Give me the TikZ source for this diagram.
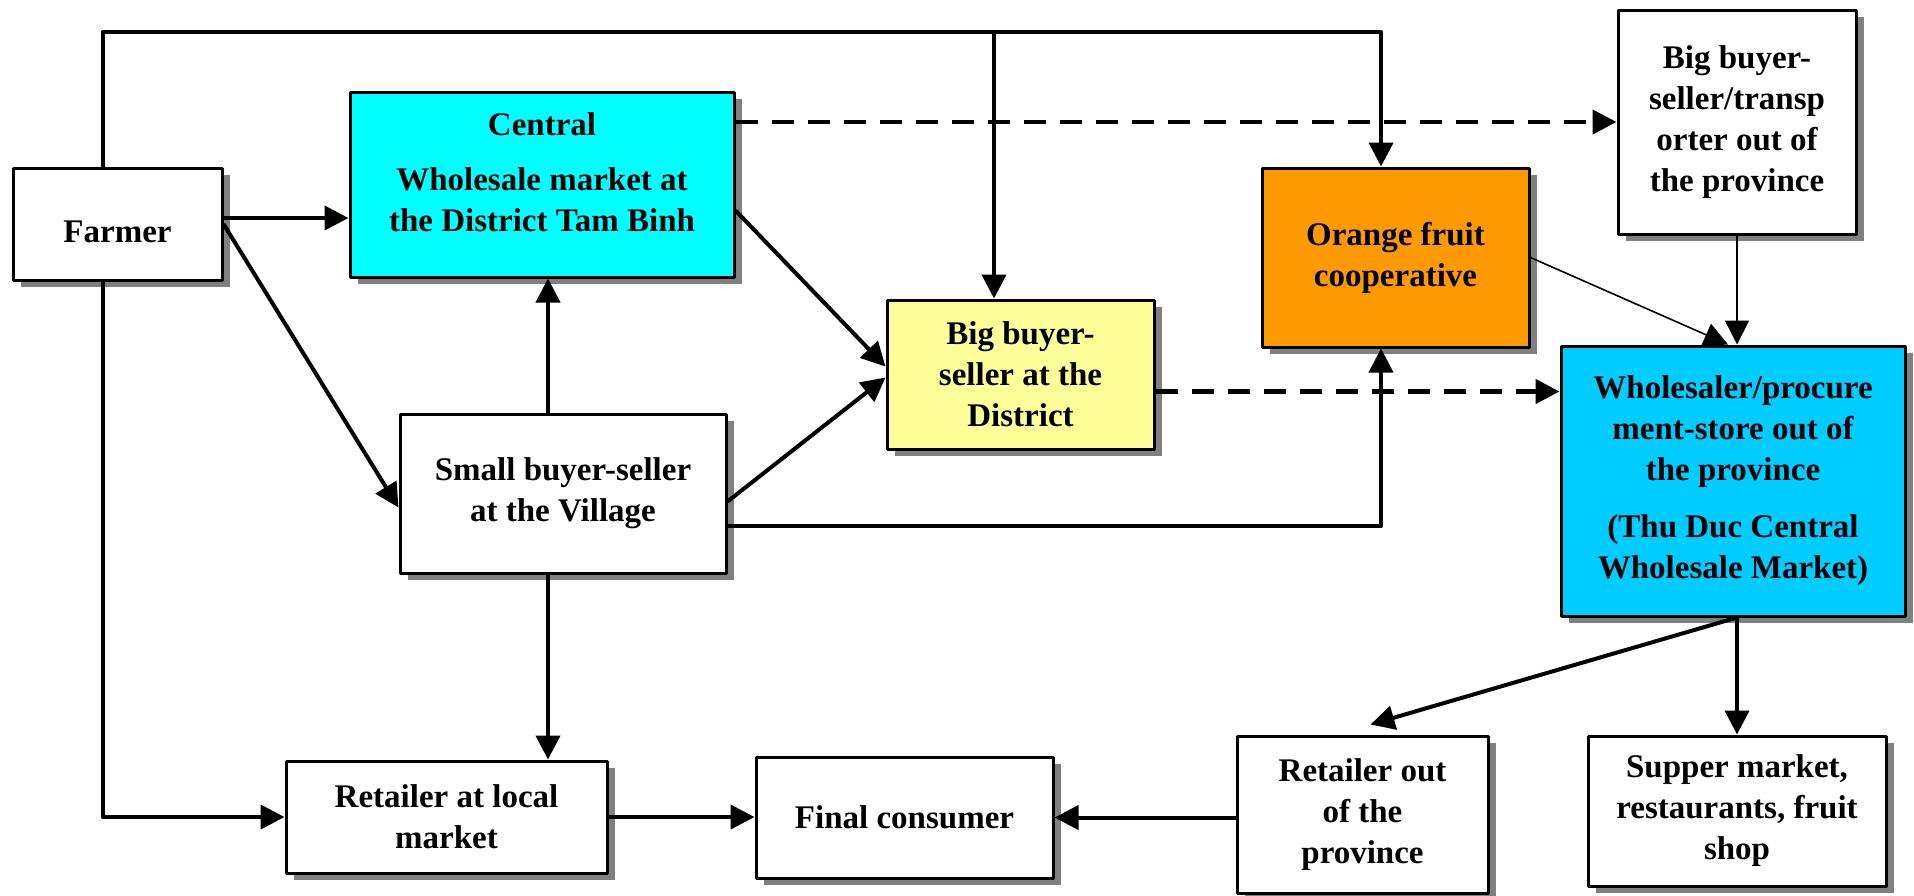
\documentclass[tikz,border=0pt]{standalone}
\usepackage{fontspec}
\setmainfont{Liberation Serif}
\usetikzlibrary{arrows.meta,shadows,calc}
\definecolor{aqua}{RGB}{0,255,255}
\definecolor{paleyellow}{RGB}{255,255,153}
\definecolor{orangebox}{RGB}{255,153,0}
\definecolor{skyblue}{RGB}{0,204,255}
\begin{document}
\begin{tikzpicture}[x=.5pt, y=-.5pt, line join=round, >={Triangle[length=12pt,width=12pt]},
	box/.style={draw, line width=1.5pt, fill=white, align=center, inner sep=2pt,
		font=\bfseries\fontsize{16.5}{20.5}\selectfont,
		drop shadow={shadow xshift=4pt, shadow yshift=-3.5pt, fill=gray, opacity=1}},
	ln/.style={line width=2pt},
	lite/.style={line width=.8pt},
	dsh/.style={line width=2.2pt, dash pattern=on 11pt off 7pt}]
	\useasboundingbox (0,0) rectangle (1914,895);
	% boxes
	\node[box, minimum width=104.5pt, minimum height=56pt, text height=19pt] (farmer) at (117.5,224) {Farmer};
	\node[box, fill=aqua, minimum width=192pt, minimum height=92.5pt, label={[yshift=6pt, align=center, font=\bfseries\fontsize{16.5}{20.5}\selectfont]center:{Central\\[7pt]Wholesale market at\\the District Tam Binh}}] (central) at (542,184.5) {};
	\node[box, minimum width=163pt, minimum height=79.5pt] (small) at (563,493.5) {Small buyer-seller\\at the Village};
	\node[box, fill=paleyellow, minimum width=133.5pt, minimum height=74.5pt] (bigdist) at (1020.5,374.5) {Big buyer-\\seller at the\\District};
	\node[box, fill=orangebox, minimum width=133.5pt, minimum height=89.5pt] (coop) at (1395.5,257.5) {Orange fruit\\cooperative};
	\node[box, minimum width=119pt, minimum height=112pt] (transp) at (1737,122) {Big buyer-\\seller/transp\\orter out of\\the province};
	\node[box, fill=skyblue, minimum width=172pt, minimum height=135pt] (whole) at (1733,481) {Wholesaler/procure\\ment-store out of\\the province\\[8pt](Thu Duc Central\\Wholesale Market)};
	\node[box, minimum width=160.5pt, minimum height=56pt] (retlocal) at (446.5,817) {Retailer at local\\market};
	\node[box, minimum width=148.5pt, minimum height=60.5pt] (final) at (904.5,817.5) {Final consumer};
	\node[box, minimum width=125.5pt, minimum height=78.5pt] (retout) at (1362.5,814.5) {Retailer out\\of the\\province};
	\node[box, minimum width=149pt, minimum height=75pt] (supper) at (1737,811) {Supper market,\\restaurants, fruit\\shop};
	% route points
	\coordinate (ttop) at (0,32);
	\coordinate (fn) at ($(farmer.north)+(-15,0)$);
	\coordinate (fs) at ($(farmer.south)+(-15,0)$);
	\coordinate (fe) at ($(farmer.east)+(0,-6)$);
	\coordinate (cn) at ($(coop.north)+(-14.5,0)$);
	\coordinate (cs) at ($(coop.south)+(-14.5,0)$);
	\coordinate (bn) at ($(bigdist.north)+(-26.5,0)$);
	\coordinate (sn) at ($(small.north)+(-15,0)$);
	\coordinate (ss) at ($(small.south)+(-15,0)$);
	\coordinate (se) at ($(small.east)+(0,32.5)$);
	\coordinate (be) at ($(bigdist.east)+(0,17)$);
	\coordinate (wb) at (whole.south -| supper.north);
	% connectors
	\draw[ln,->] (fe) -- (fe -| central.west);
	\draw[ln,->] (fn) |- (ttop -| cn) -- (cn);
	\draw[ln,->] (ttop -| bn) -- (bn);
	\draw[ln,->] (fs) |- (retlocal.west);
	\draw[ln,->] (farmer.east) -- ($(small.west)+(0,14)$);
	\draw[ln,->] (sn) -- (sn |- central.south);
	\draw[ln,->] (ss) -- (ss |- retlocal.north);
	\draw[ln,->] ($(small.east)+(0,8)$) -- ($(bigdist.west)+(0,3)$);
	\draw[ln,->] ($(central.east)+(0,26)$) -- ($(bigdist.west)+(0,-8)$);
	\draw[ln,->] (se) -| (cs);
	\draw[dsh,->] (central.east |- transp.west) -- (transp.west);
	\draw[dsh,->] (be) -- (be -| whole.west);
	\draw[lite,->] (transp.south) -- (transp.south |- whole.north);
	\draw[lite,->] (coop.east) -- ($(whole.north)+(-5,0)$);
	\draw[ln,->] (wb) -- (supper.north);
	\draw[ln,->] (wb) -- ($(retout.north)+(8,-10)$);
	\draw[ln,->] (retout.west |- final.east) -- (final.east);
	\draw[ln,->] (retlocal.east) -- (retlocal.east -| final.west);
\end{tikzpicture}
\end{document}
